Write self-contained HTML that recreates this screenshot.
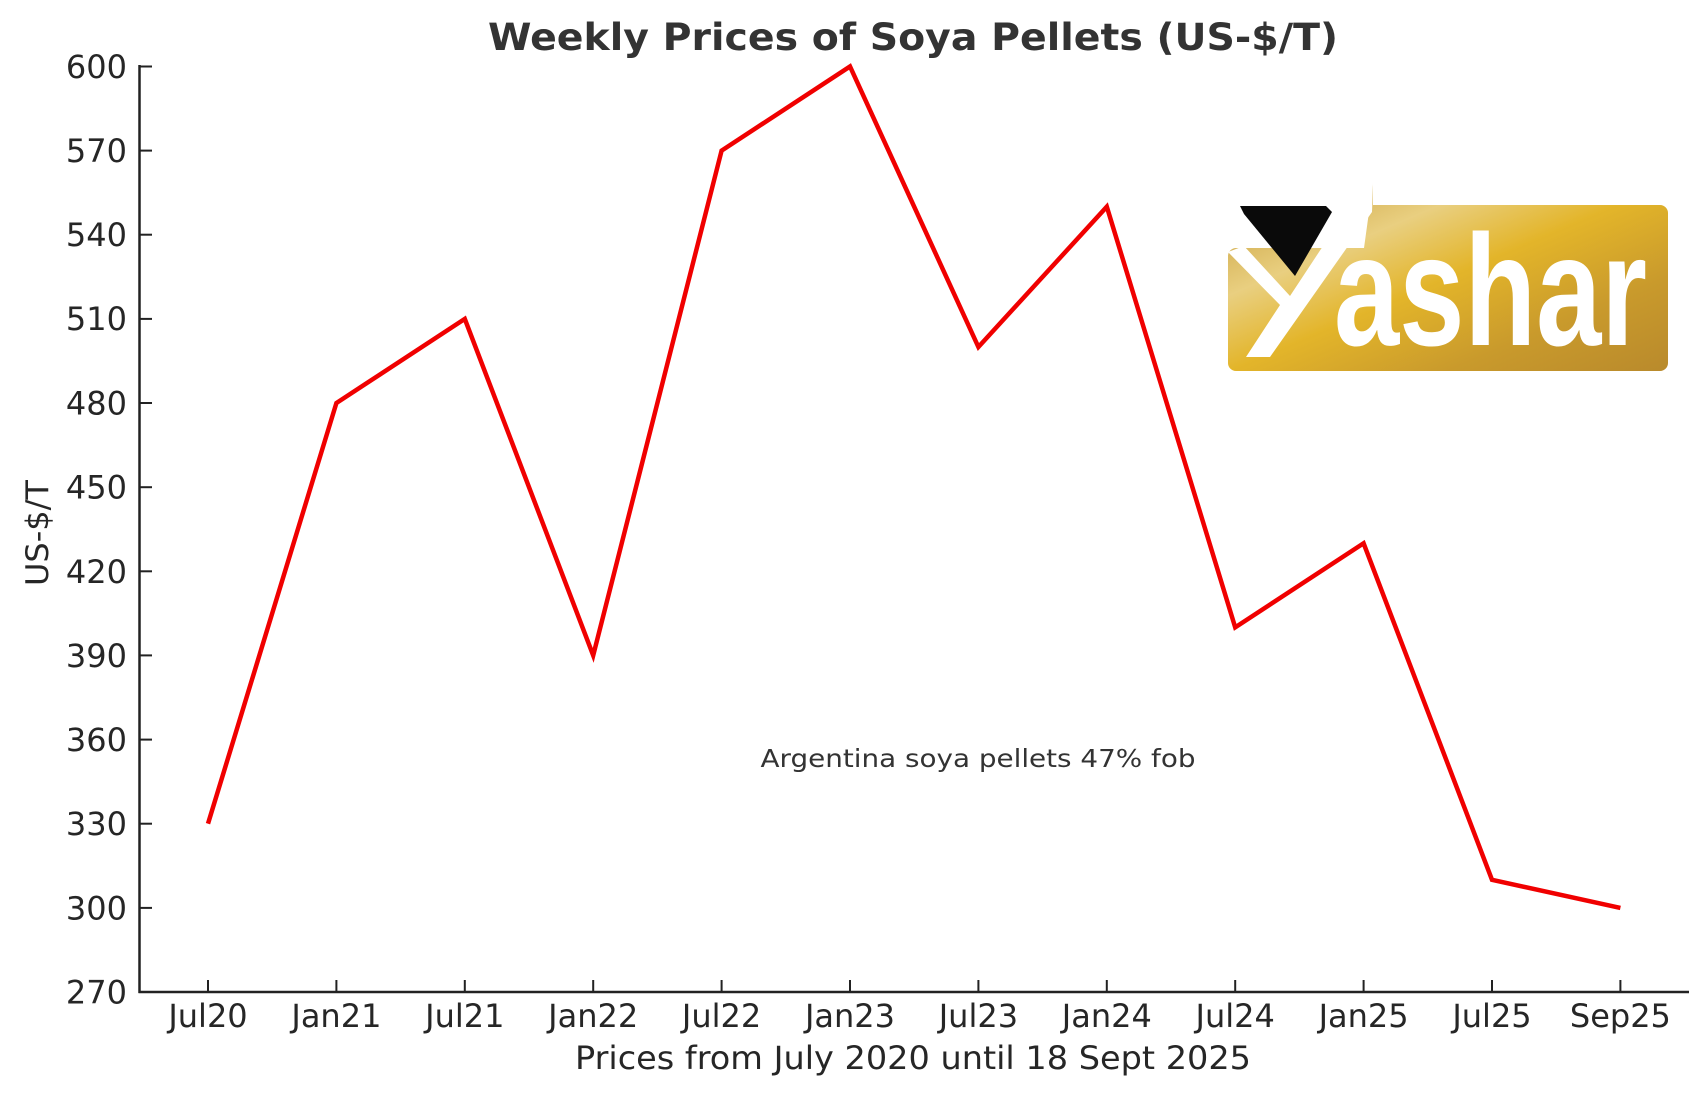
<!DOCTYPE html>
<html><head><meta charset="utf-8"><style>
html,body{margin:0;padding:0;background:#fff;}
svg{display:block;}
text{font-family:"DejaVu Sans","Liberation Sans",sans-serif;fill:#262626;}
</style></head><body>
<svg width="1707" height="1097" viewBox="0 0 1707 1097" xmlns="http://www.w3.org/2000/svg">
<defs>
<linearGradient id="g" x1="0" y1="0" x2="1" y2="1">
<stop offset="0" stop-color="#c2962e"/>
<stop offset="0.3" stop-color="#e9cf80"/>
<stop offset="0.5" stop-color="#e3b52a"/>
<stop offset="0.75" stop-color="#c99a2c"/>
<stop offset="1" stop-color="#b98a2c"/>
</linearGradient>
</defs>
<text x="913" y="50" text-anchor="middle" font-size="37" font-weight="bold" textLength="850" lengthAdjust="spacingAndGlyphs" style="fill:#333">Weekly Prices of Soya Pellets  (US-$/T)</text>
<line x1="139.5" y1="65" x2="139.5" y2="993" stroke="#222" stroke-width="2.5"/>
<line x1="138.5" y1="992" x2="1689" y2="992" stroke="#222" stroke-width="2.5"/>
<g stroke="#222" stroke-width="2">
<line x1="140" y1="66.5" x2="152" y2="66.5"/><line x1="140" y1="150.6" x2="152" y2="150.6"/>
<line x1="140" y1="234.7" x2="152" y2="234.7"/><line x1="140" y1="318.9" x2="152" y2="318.9"/>
<line x1="140" y1="403" x2="152" y2="403"/><line x1="140" y1="487.2" x2="152" y2="487.2"/>
<line x1="140" y1="571.3" x2="152" y2="571.3"/><line x1="140" y1="655.4" x2="152" y2="655.4"/>
<line x1="140" y1="739.6" x2="152" y2="739.6"/><line x1="140" y1="823.7" x2="152" y2="823.7"/>
<line x1="140" y1="907.9" x2="152" y2="907.9"/>
<line x1="208" y1="980" x2="208" y2="992"/><line x1="336.4" y1="980" x2="336.4" y2="992"/>
<line x1="464.8" y1="980" x2="464.8" y2="992"/><line x1="593.2" y1="980" x2="593.2" y2="992"/>
<line x1="721.6" y1="980" x2="721.6" y2="992"/><line x1="850" y1="980" x2="850" y2="992"/>
<line x1="978.4" y1="980" x2="978.4" y2="992"/><line x1="1106.8" y1="980" x2="1106.8" y2="992"/>
<line x1="1235.2" y1="980" x2="1235.2" y2="992"/><line x1="1363.6" y1="980" x2="1363.6" y2="992"/>
<line x1="1492" y1="980" x2="1492" y2="992"/><line x1="1620.4" y1="980" x2="1620.4" y2="992"/>
</g>
<g font-size="32" text-anchor="end">
<text x="127" y="78">600</text><text x="127" y="162">570</text><text x="127" y="246">540</text>
<text x="127" y="330">510</text><text x="127" y="414.5">480</text><text x="127" y="498.5">450</text>
<text x="127" y="583">420</text><text x="127" y="667">390</text><text x="127" y="751">360</text>
<text x="127" y="835">330</text><text x="127" y="919.5">300</text><text x="127" y="1003.5">270</text>
</g>
<g font-size="32" text-anchor="middle">
<text x="208" y="1027">Jul20</text><text x="336.4" y="1027">Jan21</text><text x="464.8" y="1027">Jul21</text>
<text x="593.2" y="1027">Jan22</text><text x="721.6" y="1027">Jul22</text><text x="850" y="1027">Jan23</text>
<text x="978.4" y="1027">Jul23</text><text x="1106.8" y="1027">Jan24</text><text x="1235.2" y="1027">Jul24</text>
<text x="1363.6" y="1027">Jan25</text><text x="1492" y="1027">Jul25</text><text x="1620.4" y="1027">Sep25</text>
</g>
<text x="913" y="1069" text-anchor="middle" font-size="32" textLength="676" lengthAdjust="spacingAndGlyphs">Prices from July 2020 until 18 Sept 2025</text>
<text transform="translate(48,533) rotate(-90)" text-anchor="middle" font-size="31" textLength="106" lengthAdjust="spacingAndGlyphs">US-$/T</text>
<text x="978" y="767" text-anchor="middle" font-size="25" textLength="435" lengthAdjust="spacingAndGlyphs" style="fill:#333">Argentina soya pellets 47% fob</text>
<!-- logo -->
<g>
<path d="M1228 256 a8 8 0 0 1 8 -8 h128 l9 -65 v22 h287 a8 8 0 0 1 8 8 v150 a8 8 0 0 1 -8 8 h-424 a8 8 0 0 1 -8 -8 z" fill="url(#g)"/>
<polygon points="1240,206 1326,206 1332,212 1295,276 1244,214" fill="#0a0a0a"/>
<polygon points="1228,252 1244,246 1290,296 1350,205 1373,183 1372,212 1270,357 1246,357 1280,305" fill="#fff"/>
<text x="1334" y="345" font-size="158" font-weight="bold" textLength="313" lengthAdjust="spacingAndGlyphs" style="fill:#fff;font-family:'Liberation Sans Narrow','Liberation Sans',sans-serif">ashar</text>
</g>
<polyline fill="none" stroke="#f00000" stroke-width="4.5" stroke-linejoin="miter" points="208,823.7 336.4,403 464.8,318.9 593.2,655.4 721.6,150.6 850,66.5 978.4,347 1106.8,206.7 1235.2,627.4 1363.6,543.3 1492,879.8 1620.4,907.9"/>
</svg>
</body></html>
